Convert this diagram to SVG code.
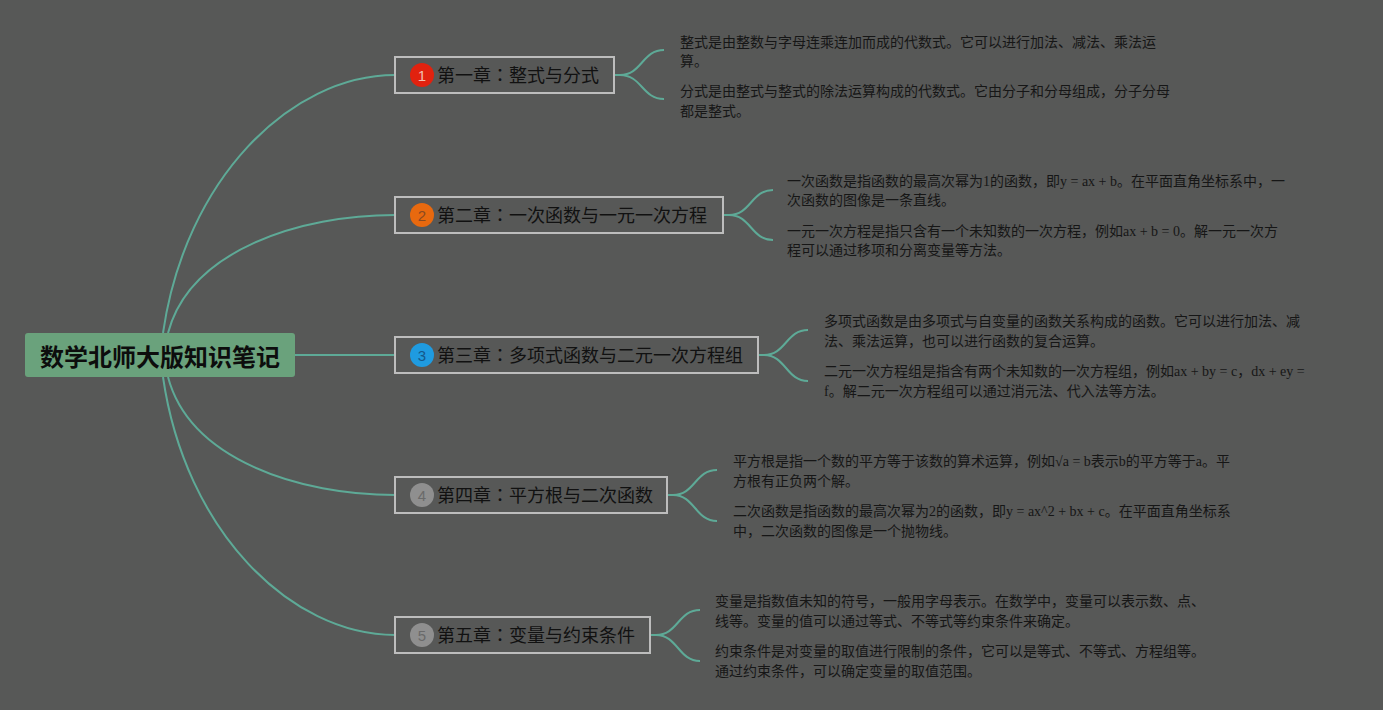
<svg xmlns="http://www.w3.org/2000/svg" width="1383" height="710" viewBox="0 0 1383 710">
<style>
.bg{fill:#575857}
.conn{fill:none;stroke:#5eaa97;stroke-width:2}
.box{fill:#575857;stroke:#bdbdbd;stroke-width:2}
.ttl{font-family:"Noto Sans CJK SC","Noto Sans",sans-serif;font-size:18px;fill:#111}
.col{font-family:"Noto Sans CJK TC",sans-serif}
.leaf{font-family:"Liberation Serif","Noto Sans CJK SC",serif;font-size:14px;fill:#161616}
.num{font-family:"Liberation Sans",Arial,sans-serif;font-size:15px;text-anchor:middle}
</style>
<rect class="bg" x="0" y="0" width="1383" height="710"/>
<g id="connectors">
<path class="conn" d="M163,333 C185,180 290,75 395,75"/>
<path class="conn" d="M168,333 C190,250 300,215 395,215"/>
<path class="conn" d="M295,355 L395,355"/>
<path class="conn" d="M168,377 C190,460 300,495 395,495"/>
<path class="conn" d="M163,377 C185,530 290,635 395,635"/>
<path class="conn" d="M614,75 L620,75 C642,75 642,50 664,50 M620,75 C642,75 642,99 664,99"/>
<path class="conn" d="M723,215 L729,215 C751,215 751,190 773,190 M729,215 C751,215 751,240 773,240"/>
<path class="conn" d="M758,355 L764,355 C786,355 786,330 808,330 M764,355 C786,355 786,381 808,381"/>
<path class="conn" d="M667,495 L673,495 C695,495 695,470 717,470 M673,495 C695,495 695,521 717,521"/>
<path class="conn" d="M650,635 L656,635 C678,635 678,610 700,610 M656,635 C678,635 678,661 700,661"/>
</g>
<g id="root">
<rect x="25" y="333" width="270" height="44" rx="3" fill="#6aa27c"/>
<text x="160" y="366" text-anchor="middle" font-family="Noto Sans CJK SC,sans-serif" font-size="24" font-weight="bold" fill="#0d0d0d">数学北师大版知识笔记</text>
</g>
<g id="ch1">
<rect class="box" x="395" y="57" width="219" height="36"/>
<circle cx="422" cy="75" r="12" fill="#e1220f"/>
<text class="num" x="422" y="80.5" fill="#f0c0b0">1</text>
<text class="ttl" x="437" y="81.5">第一章<tspan class="col">：</tspan>整式与分式</text>
</g>
<g id="ch1-leaves">
<text class="leaf" x="680" y="47">整式是由整数与字母连乘连加而成的代数式。它可以进行加法、减法、乘法运</text>
<text class="leaf" x="680" y="66">算。</text>
<text class="leaf" x="680" y="96">分式是由整式与整式的除法运算构成的代数式。它由分子和分母组成，分子分母</text>
<text class="leaf" x="680" y="116">都是整式。</text>
</g>
<g id="ch2">
<rect class="box" x="395" y="197" width="328" height="36"/>
<circle cx="422" cy="215" r="12" fill="#e8690f"/>
<text class="num" x="422" y="220.5" fill="#8a4a20">2</text>
<text class="ttl" x="437" y="221.5">第二章<tspan class="col">：</tspan>一次函数与一元一次方程</text>
</g>
<g id="ch2-leaves">
<text class="leaf" x="787" y="186">一次函数是指函数的最高次幂为1的函数，即y = ax + b。在平面直角坐标系中，一</text>
<text class="leaf" x="787" y="205">次函数的图像是一条直线。</text>
<text class="leaf" x="787" y="236">一元一次方程是指只含有一个未知数的一次方程，例如ax + b = 0。解一元一次方</text>
<text class="leaf" x="787" y="255">程可以通过移项和分离变量等方法。</text>
</g>
<g id="ch3">
<rect class="box" x="395" y="337" width="363" height="36"/>
<circle cx="422" cy="355" r="12" fill="#1f9be0"/>
<text class="num" x="422" y="360.5" fill="#15588a">3</text>
<text class="ttl" x="437" y="361.5">第三章<tspan class="col">：</tspan>多项式函数与二元一次方程组</text>
</g>
<g id="ch3-leaves">
<text class="leaf" x="824" y="326">多项式函数是由多项式与自变量的函数关系构成的函数。它可以进行加法、减</text>
<text class="leaf" x="824" y="346">法、乘法运算，也可以进行函数的复合运算。</text>
<text class="leaf" x="824" y="376">二元一次方程组是指含有两个未知数的一次方程组，例如ax + by = c，dx + ey =</text>
<text class="leaf" x="824" y="396">f。解二元一次方程组可以通过消元法、代入法等方法。</text>
</g>
<g id="ch4">
<rect class="box" x="395" y="477" width="272" height="36"/>
<circle cx="422" cy="495" r="12" fill="#8f8f8f"/>
<text class="num" x="422" y="500.5" fill="#6a6a6a">4</text>
<text class="ttl" x="437" y="501.5">第四章<tspan class="col">：</tspan>平方根与二次函数</text>
</g>
<g id="ch4-leaves">
<text class="leaf" x="733" y="466">平方根是指一个数的平方等于该数的算术运算，例如√a = b表示b的平方等于a。平</text>
<text class="leaf" x="733" y="486">方根有正负两个解。</text>
<text class="leaf" x="733" y="516">二次函数是指函数的最高次幂为2的函数，即y = ax^2 + bx + c。在平面直角坐标系</text>
<text class="leaf" x="733" y="536">中，二次函数的图像是一个抛物线。</text>
</g>
<g id="ch5">
<rect class="box" x="395" y="617" width="255" height="36"/>
<circle cx="422" cy="635" r="12" fill="#8f8f8f"/>
<text class="num" x="422" y="640.5" fill="#6a6a6a">5</text>
<text class="ttl" x="437" y="641.5">第五章<tspan class="col">：</tspan>变量与约束条件</text>
</g>
<g id="ch5-leaves">
<text class="leaf" x="715" y="606">变量是指数值未知的符号，一般用字母表示。在数学中，变量可以表示数、点、</text>
<text class="leaf" x="715" y="626">线等。变量的值可以通过等式、不等式等约束条件来确定。</text>
<text class="leaf" x="715" y="656">约束条件是对变量的取值进行限制的条件，它可以是等式、不等式、方程组等。</text>
<text class="leaf" x="715" y="676">通过约束条件，可以确定变量的取值范围。</text>
</g>
</svg>
